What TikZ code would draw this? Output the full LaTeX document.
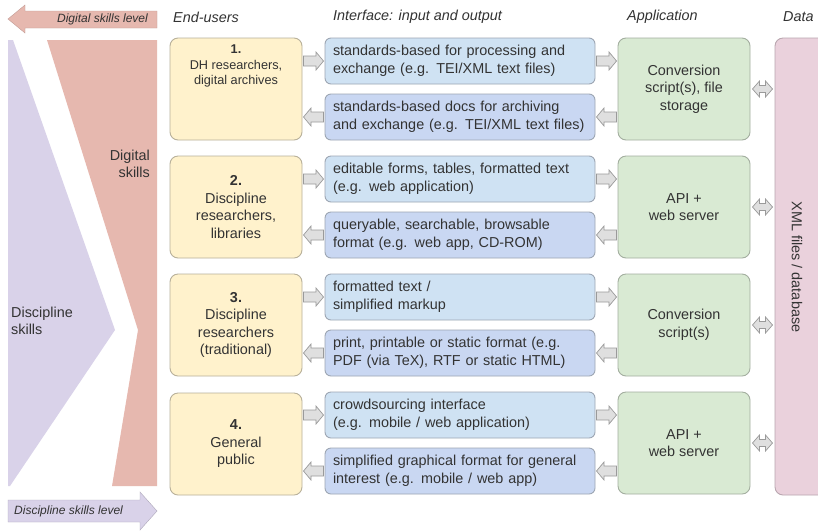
\documentclass[tikz,border=0pt]{standalone}
\usepackage{fontspec}
\setmainfont{Liberation Sans}
\usetikzlibrary{calc}
\definecolor{txt}{HTML}{333333}
\definecolor{yelfill}{HTML}{FFF2CC}
\definecolor{yeldraw}{HTML}{B8B09A}
\definecolor{bluea}{HTML}{CFE2F3}
\definecolor{blueb}{HTML}{C9D7F2}
\definecolor{bluedraw}{HTML}{9DA6B3}
\definecolor{grnfill}{HTML}{D9EAD3}
\definecolor{grndraw}{HTML}{A3AE9F}
\definecolor{pinkfill}{HTML}{EAD1DC}
\definecolor{pinkdraw}{HTML}{B9A6AF}
\definecolor{redfill}{HTML}{E6B8AF}
\definecolor{purfill}{HTML}{D9D2E9}
\definecolor{arrfill}{HTML}{DFDFDF}
\definecolor{arrdraw}{HTML}{9A9A9A}
\tikzset{
  basefont/.style={font=\fontsize{14.4}{17.5}\selectfont, text=txt},
  userbox/.style={basefont, draw=yeldraw, fill=yelfill, line width=0.9pt, rounded corners=8pt,
    minimum width=132pt, minimum height=102pt, align=center, inner sep=0pt},
  iobox/.style={basefont, draw=bluedraw, line width=0.9pt, rounded corners=6pt,
    minimum width=270pt, minimum height=46pt, text width=254pt, inner xsep=8pt, inner ysep=0pt, align=left},
  inbox/.style={iobox, fill=bluea},
  outbox/.style={iobox, fill=blueb},
  appbox/.style={basefont, draw=grndraw, fill=grnfill, line width=0.9pt, rounded corners=8pt,
    minimum width=132pt, minimum height=102pt, align=center, inner sep=0pt},
  databox/.style={draw=pinkdraw, fill=pinkfill, line width=0.9pt, rounded corners=8pt,
    minimum width=60pt, minimum height=457pt, inner sep=0pt},
  header/.style={font=\fontsize{14.4}{17.5}\selectfont\itshape, text=txt, inner sep=0pt},
  sidelabel/.style={font=\fontsize{14.4}{16.5}\selectfont, text=txt, inner sep=0pt},
  levellabel/.style={font=\fontsize{12}{14}\selectfont\itshape, text=txt, inner sep=0pt},
  barrow/.style={fill=arrfill, draw=arrdraw, line width=0.7pt, line join=miter},
  rarr/.pic={\draw[barrow] (-10,-5) -- (2.5,-5) -- (2.5,-9) -- (10,0) -- (2.5,9) -- (2.5,5) -- (-10,5) -- cycle;},
  larr/.pic={\draw[barrow] (10,-5) -- (-2.5,-5) -- (-2.5,-9) -- (-10,0) -- (-2.5,9) -- (-2.5,5) -- (10,5) -- cycle;},
  darr/.pic={\draw[barrow] (-10,0) -- (-3,-8) -- (-3,-3.5) -- (3,-3.5) -- (3,-8) -- (10,0) -- (3,8) -- (3,3.5) -- (-3,3.5) -- (-3,8) -- cycle;}
}
\begin{document}
\begin{tikzpicture}[x=1pt,y=-1pt]
\clip (0,0) rectangle (818,531);
\fill[white] (0,0) rectangle (818,531);

% skill regions
\fill[purfill] (8,40) -- (13,40) -- (115,330) -- (10,486) -- (8,486) -- cycle;
\fill[redfill] (47,40) -- (157,40) -- (157,486) -- (112,486) -- (138,330) -- cycle;
\node[sidelabel, align=right, anchor=east] (dsk) at (150,164) {Digital\\skills};
\node[sidelabel, align=left, anchor=west] (psk) at (11,321) {Discipline\\skills};

% level arrows
\fill[redfill, draw=redfill!85!black, line width=0.4pt] (8,19) -- (25,5) -- (25,11) -- (157,11) -- (157,28) -- (25,28) -- (25,33) -- cycle;
\node[levellabel, anchor=east] (dlev) at (148,19.5) {Digital skills level};
\fill[purfill, draw=purfill!80!black, line width=0.4pt] (8,500) -- (140,500) -- (140,492) -- (157,511) -- (140,530) -- (140,522) -- (8,522) -- cycle;
\node[levellabel, anchor=west] (plev) at (14,511.5) {Discipline skills level};

% headers
\node[header, anchor=west] (h1) at (173,17) {End-users};
\node[header, anchor=west] (h2) at (333,17) {Interface: input and output};
\node[header, anchor=west] (h3) at (627,17) {Application};
\node[header, anchor=west] (h4) at (783,17) {Data};

% data
\node[databox] (data) at (805,266.5) {};
\node[basefont, rotate=-90] (datalbl) at (797,267) {XML files / database};

% end-users
\node[userbox] (u1) at (236,89) {};
\node[basefont, font=\fontsize{12.7}{15.5}\selectfont, align=center] (u1t) at (236,66) {\textbf{1.}\\DH researchers,\\digital archives};
\node[userbox] (u2) at (236,207) {\textbf{2.}\\Discipline\\researchers,\\libraries};
\node[userbox] (u3) at (236,325) {\textbf{3.}\\Discipline\\researchers\\(traditional)};
\node[userbox] (u4) at (236,444) {\textbf{4.}\\General\\public};

% interface
\node[inbox] (i1a) at (460,61) {standards-based for processing and\\exchange (e.g. TEI/XML text files)};
\node[outbox] (i1b) at (460,117) {standards-based docs for archiving\\and exchange (e.g. TEI/XML text files)};
\node[inbox] (i2a) at (460,179) {editable forms, tables, formatted text\\(e.g. web application)};
\node[outbox] (i2b) at (460,235) {queryable, searchable, browsable\\format (e.g. web app, CD-ROM)};
\node[inbox] (i3a) at (460,297) {formatted text /\\simplified markup};
\node[outbox] (i3b) at (460,353) {print, printable or static format (e.g.\\PDF (via TeX), RTF or static HTML)};
\node[inbox] (i4a) at (460,415) {crowdsourcing interface\\(e.g. mobile / web application)};
\node[outbox] (i4b) at (460,471) {simplified graphical format for general\\interest (e.g. mobile / web app)};

% application
\node[appbox] (a1) at (684,89) {Conversion\\script(s), file\\storage};
\node[appbox] (a2) at (684,207) {API +\\web server};
\node[appbox] (a3) at (684,325) {Conversion\\script(s)};
\node[appbox] (a4) at (684,443) {API +\\web server};

% block arrows
\foreach \r in {1,2,3,4}{
  \pic at ($(u\r.east|-i\r a.west)!0.5!(i\r a.west)$) {rarr};
  \pic at ($(u\r.east|-i\r b.west)!0.5!(i\r b.west)$) {larr};
  \pic at ($(i\r a.east)!0.5!(a\r.west|-i\r a.east)$) {rarr};
  \pic at ($(i\r b.east)!0.5!(a\r.west|-i\r b.east)$) {larr};
  \pic at ($(a\r.east)!0.5!(data.west|-a\r.east)$) {darr};
}
\end{tikzpicture}
\end{document}
